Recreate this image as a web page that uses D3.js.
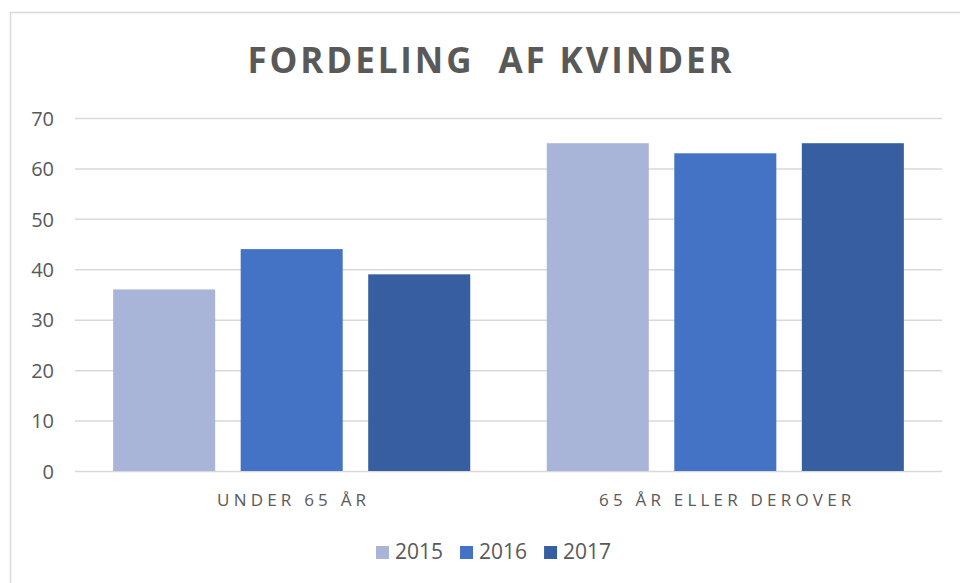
<!DOCTYPE html>
<html>
<head>
<meta charset="utf-8">
<script src="https://cdn.jsdelivr.net/npm/d3@7"></script>
<style>
  body { margin: 0; background: #fff; }
  text { font-family: "Open Sans", "Noto Sans", sans-serif; fill: #595959; }
</style>
</head>
<body>
<svg id="chart" width="960" height="583"></svg>
<script>
// data
var categories = ["UNDER 65 ÅR", "65 ÅR ELLER DEROVER"];
var years = ["2015", "2016", "2017"];
var values2015 = [36, 65];
var values2016 = [44, 63];
var values2017 = [39, 65];
var yTicks = [0, 10, 20, 30, 40, 50, 60, 70];
var colors = ["#a8b5d9", "#4472c4", "#365ea1"];

var series = [values2015, values2016, values2017];

var svg = d3.select("#chart");

// chart frame
svg.append("rect")
  .attr("x", 10.5)
  .attr("y", 12.5)
  .attr("width", 960)
  .attr("height", 600)
  .attr("fill", "#fff")
  .attr("stroke", "#d9d9d9")
  .attr("stroke-width", 1.5);

var plotLeft = 75, plotRight = 942, plotTop = 118, plotBottom = 471;

var y = d3.scaleLinear()
  .domain([0, 70])
  .range([plotBottom, plotTop]);

var x0 = d3.scaleBand()
  .domain(categories)
  .range([plotLeft, plotRight])
  .paddingInner(0.1765)
  .paddingOuter(0.088);

var x1 = d3.scaleBand()
  .domain(years)
  .range([0, x0.bandwidth()])
  .paddingInner(0.2);

var color = d3.scaleOrdinal()
  .domain(years)
  .range(colors);

// gridlines
var yAxis = d3.axisLeft(y)
  .tickValues(yTicks)
  .tickSize(-(plotRight - plotLeft))
  .tickPadding(21);

var gy = svg.append("g")
  .attr("transform", "translate(" + plotLeft + ",0)")
  .call(yAxis);

gy.select(".domain").remove();
gy.selectAll(".tick line")
  .attr("stroke", "#d9d9d9")
  .attr("stroke-width", 1.5);
gy.selectAll(".tick text")
  .style("font-size", "20px")
  .attr("fill", "#595959")
  .attr("dy", "0.36em");

// bars
var groups = svg.selectAll(".group")
  .data(categories)
  .enter()
  .append("g")
  .attr("class", "group")
  .attr("transform", function(d) { return "translate(" + x0(d) + ",0)"; });

groups.selectAll("rect")
  .data(function(d, i) {
    return years.map(function(yr, j) { return {year: yr, value: series[j][i]}; });
  })
  .enter()
  .append("rect")
  .attr("x", function(d) { return x1(d.year); })
  .attr("y", function(d) { return y(d.value); })
  .attr("width", x1.bandwidth())
  .attr("height", function(d) { return y(0) - y(d.value); })
  .attr("fill", function(d) { return color(d.year); });

// category labels
svg.selectAll(".catLabel")
  .data(categories)
  .enter()
  .append("text")
  .attr("class", "catLabel")
  .attr("x", function(d) { return x0(d) + x0.bandwidth() / 2 + 2; })
  .attr("y", 506)
  .attr("text-anchor", "middle")
  .style("font-size", "17px")
  .style("letter-spacing", "4.2px")
  .text(function(d) { return d; });

// title
svg.append("text")
  .attr("x", 491)
  .attr("y", 73)
  .attr("text-anchor", "middle")
  .style("font-size", "35px")
  .style("font-weight", "bold")
  .style("letter-spacing", "2.9px")
  .style("white-space", "pre")
  .text("FORDELING  AF KVINDER");

// legend
var legend = svg.append("g");
var lx = 0;
years.forEach(function(yr, i) {
  var item = legend.append("g").attr("transform", "translate(" + lx + ",0)");
  item.append("rect")
    .attr("x", 0)
    .attr("y", -13)
    .attr("width", 13)
    .attr("height", 13)
    .attr("fill", color(yr));
  var t = item.append("text")
    .attr("x", 19)
    .attr("y", 0)
    .style("font-size", "21px")
    .text(yr);
  lx += 19 + t.node().getComputedTextLength() + 17;
});
legend.attr("transform", "translate(376,559)");
</script>
</body>
</html>
